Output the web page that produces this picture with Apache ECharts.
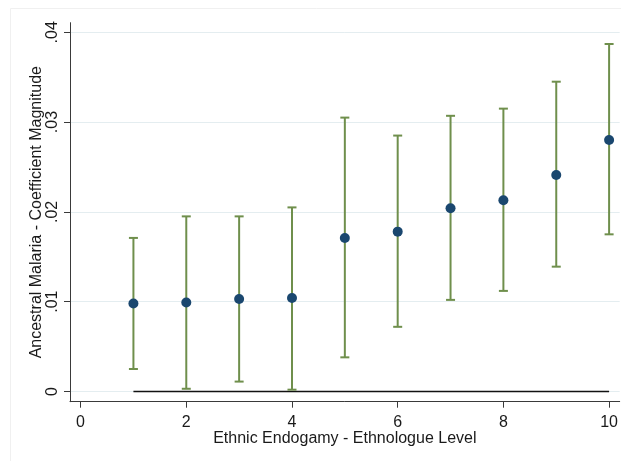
<!DOCTYPE html>
<html>
<head>
<meta charset="utf-8">
<script src="https://cdn.jsdelivr.net/npm/echarts@6/dist/echarts.min.js"></script>
<style>
  html, body { margin: 0; padding: 0; background: #ffffff; }
  #chart { width: 621px; height: 461px; }
</style>
</head>
<body>
<div id="chart"></div>
<script>
// Ethnologue level of endogamy and the estimated coefficient of ancestral malaria
const levels = [1, 2, 3, 4, 5, 6, 7, 8, 9, 10];
const coef   = [0.0098, 0.0099, 0.0103, 0.0104, 0.0171, 0.0178, 0.0204, 0.0213, 0.0241, 0.0280];
// 95% confidence interval bounds
const lower  = [0.0025, 0.0003, 0.0011, 0.0002, 0.0038, 0.0072, 0.0102, 0.0112, 0.0139, 0.0175];
const upper  = [0.0171, 0.0195, 0.0195, 0.0205, 0.0305, 0.0285, 0.0307, 0.0315, 0.0345, 0.0387];
// Axis tick values
const xTicks = [0, 2, 4, 6, 8, 10];
const yTicks = [0, 0.01, 0.02, 0.03, 0.04];

const textColor = '#1a1a1a';
const axisColor = '#3a3a3a';
const ciColor = '#6f8f4c';
const dotColor = '#1a476f';
const gridColor = '#e4edf0';
const font = '"Liberation Sans", Arial, sans-serif';

const chart = echarts.init(document.getElementById('chart'), null, { renderer: 'canvas' });

const option = {
  backgroundColor: '#ffffff',
  animation: false,
  // faint frame around the graph region
  graphic: [{
    type: 'rect',
    left: 8,
    top: 6,
    shape: { width: 640, height: 480 },
    style: { fill: null, stroke: '#f0f0f0', lineWidth: 1 },
    silent: true,
    z: -1
  }],
  grid: { left: 70, right: 1, top: 22.7, bottom: 59.3, containLabel: false },
  xAxis: {
    type: 'value',
    min: -0.2,
    max: 10.2,
    name: 'Ethnic Endogamy - Ethnologue Level',
    nameLocation: 'middle',
    nameGap: 29,
    nameMoveOverlap: false,
    nameTextStyle: { fontFamily: font, fontSize: 16, color: textColor },
    axisLine: { show: true, onZero: false, lineStyle: { color: axisColor, width: 1 } },
    axisTick: { show: true, inside: false, length: 6, customValues: xTicks, lineStyle: { color: axisColor } },
    axisLabel: { customValues: xTicks, margin: 13, fontFamily: font, fontSize: 16, color: textColor },
    splitLine: { show: false }
  },
  yAxis: {
    type: 'value',
    min: -0.00114,
    max: 0.04107,
    name: 'Ancestral Malaria - Coefficient Magnitude',
    nameLocation: 'middle',
    nameRotate: 90,
    nameGap: 25,
    nameMoveOverlap: false,
    nameTextStyle: { fontFamily: font, fontSize: 16, color: textColor },
    axisLine: { show: true, onZero: false, lineStyle: { color: axisColor, width: 1 } },
    axisTick: { show: true, inside: false, length: 6, customValues: yTicks, lineStyle: { color: axisColor } },
    axisLabel: {
      customValues: yTicks,
      rotate: 90,
      margin: 9,
      fontFamily: font,
      fontSize: 16,
      color: textColor,
      formatter: v => (Math.abs(v) < 1e-9 ? '0' : v.toFixed(2).replace(/^0/, ''))
    },
    splitLine: { show: true, lineStyle: { color: gridColor, width: 1 } }
  },
  series: [
    {
      // reference line at zero across the observed levels
      type: 'line',
      data: [[levels[0], 0], [levels[levels.length - 1], 0]],
      symbol: 'none',
      lineStyle: { color: '#111111', width: 1.6 },
      silent: true,
      z: 1
    },
    {
      type: 'custom',
      data: levels.map((x, i) => [x, lower[i], upper[i]]),
      encode: { x: 0, y: [1, 2] },
      renderItem: function (params, api) {
        const x = api.value(0);
        const pLo = api.coord([x, api.value(1)]);
        const pHi = api.coord([x, api.value(2)]);
        const hw = 4.5;
        const style = { stroke: ciColor, lineWidth: 2, fill: null };
        return {
          type: 'group',
          children: [
            { type: 'line', shape: { x1: pLo[0], y1: pLo[1], x2: pHi[0], y2: pHi[1] }, style: style },
            { type: 'line', shape: { x1: pLo[0] - hw, y1: pLo[1], x2: pLo[0] + hw, y2: pLo[1] }, style: style },
            { type: 'line', shape: { x1: pHi[0] - hw, y1: pHi[1], x2: pHi[0] + hw, y2: pHi[1] }, style: style }
          ]
        };
      },
      z: 2
    },
    {
      type: 'scatter',
      data: levels.map((x, i) => [x, coef[i]]),
      symbol: 'circle',
      symbolSize: 10,
      itemStyle: { color: dotColor, opacity: 1 },
      z: 3
    }
  ]
};

chart.setOption(option);
</script>
</body>
</html>
